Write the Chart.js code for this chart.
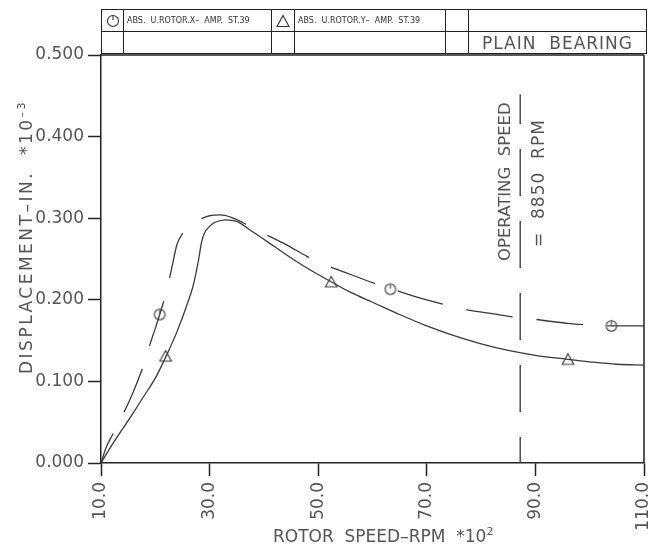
<!DOCTYPE html>
<html lang="en">
<head>
<meta charset="UTF-8">
<title>Plain bearing - displacement vs rotor speed</title>
<script src="https://cdn.jsdelivr.net/npm/chart.js"></script>
<style>
  body { margin: 0; background: #fff; }
  #wrap { position: relative; width: 661px; height: 549px; font-family: "DejaVu Sans", sans-serif; color: #555; }
  #chart { position: absolute; left: 0; top: 0; }
  table.head { position: absolute; left: 101px; top: 9px; width: 545px; border-collapse: collapse; table-layout: fixed; }
  table.head td { border: 1.5px solid #222; padding: 0; height: 21px; font-size: 8px; color: #333; white-space: nowrap; overflow: hidden; vertical-align: middle; }
  table.head td.sym { text-align: center; }
  table.head td.sym svg { display: block; margin: 0 auto; }
  table.head td.txt { padding-left: 3px; }
  table.head td.big { font-size: 17px; color: #555; text-align: center; letter-spacing: 1px; }
  .rot { position: absolute; white-space: nowrap; line-height: 17px; font-size: 17px; transform-origin: 0 0; transform: rotate(-90deg); }
  .lbl { position: absolute; white-space: nowrap; line-height: 17px; font-size: 17px; }
  sup { font-size: 11px; line-height: 0; vertical-align: 7px; }
</style>
</head>
<body>
<div id="wrap">
  <canvas id="chart" width="661" height="549"></canvas>

  <table class="head">
    <colgroup>
      <col style="width:22px"><col style="width:148px"><col style="width:23px">
      <col style="width:151px"><col style="width:23px"><col style="width:178px">
    </colgroup>
    <tr>
      <td class="sym"><svg width="14" height="14"><circle cx="7" cy="7" r="5.5" fill="none" stroke="#333" stroke-width="1.1"/><line x1="7" y1="1.5" x2="7" y2="6" stroke="#333" stroke-width="1.1"/></svg></td>
      <td class="txt">ABS.&nbsp; U.ROTOR.X–&nbsp; AMP.&nbsp; ST.39</td>
      <td class="sym"><svg width="14" height="14"><polygon points="7,1.5 13,12.5 1,12.5" fill="none" stroke="#333" stroke-width="1.1"/></svg></td>
      <td class="txt">ABS.&nbsp; U.ROTOR.Y–&nbsp; AMP.&nbsp; ST.39</td>
      <td></td>
      <td></td>
    </tr>
    <tr>
      <td></td><td></td><td></td><td></td><td></td>
      <td class="big">PLAIN&nbsp; BEARING</td>
    </tr>
  </table>

  <div class="rot" style="left:18px; top:374px; letter-spacing:2.5px;">DISPLACEMENT–IN.&nbsp; *10<sup>–3</sup></div>
  <div class="lbl" style="left:273px; top:528px;">ROTOR&nbsp; SPEED–RPM&nbsp; *10<sup>2</sup></div>
  <div class="rot" style="left:496px; top:261px; font-size:16.5px;">OPERATING&nbsp; SPEED</div>
  <div class="rot" style="left:530px; top:247px; letter-spacing:1px;">=&nbsp; 8850&nbsp; RPM</div>
</div>

<script>
// rotor speed in RPM*10^2, displacement in inch*10^-3
const rpmX = [10, 11, 12, 14, 16, 18, 19, 20, 21, 22, 23, 24, 25, 26, 27, 28, 30, 32, 34, 36, 40, 44, 48, 52, 56, 60, 66, 70, 74, 78, 82, 87, 90, 96, 100, 104, 110];
const ampX = [0.000, 0.020, 0.033, 0.059, 0.088, 0.123, 0.145, 0.165, 0.186, 0.209, 0.238, 0.268, 0.281, 0.289, 0.294, 0.298, 0.303, 0.304, 0.301, 0.295, 0.281, 0.268, 0.253, 0.241, 0.231, 0.221, 0.208, 0.200, 0.193, 0.187, 0.183, 0.178, 0.176, 0.171, 0.169, 0.168, 0.168];

const rpmY = [10, 12, 14, 16, 18, 20, 22, 24, 26, 27, 28, 28.5, 29, 30, 31, 33, 35, 38, 42, 46, 50, 56, 60, 65, 70, 75, 80, 85, 90, 96, 100, 105, 110];
const ampY = [0.000, 0.022, 0.042, 0.062, 0.083, 0.104, 0.131, 0.161, 0.197, 0.218, 0.250, 0.270, 0.281, 0.290, 0.295, 0.298, 0.296, 0.283, 0.265, 0.247, 0.231, 0.209, 0.197, 0.182, 0.168, 0.156, 0.146, 0.138, 0.132, 0.127, 0.124, 0.121, 0.120];

// marked test points
const markRpmX = [20.8, 63.3, 104];
const markAmpX = [0.182, 0.213, 0.168];
const markRpmY = [21.9, 52.4, 96];
const markAmpY = [0.131, 0.222, 0.127];

// operating speed line (drawn where it sits on the plot)
const opRpm = [87.2, 87.2];
const opAmp = [0, 0.452];

const xTicks = [10, 30, 50, 70, 90, 110];
const yTicks = [0, 0.1, 0.2, 0.3, 0.4, 0.5];

const ink = '#3a3a3a';
const axisInk = '#222';

function pts(xs, ys) {
    return xs.map((x, i) => ({ x: x, y: ys[i] }));
}

// circle with a short stroke from the top, like on the drawing
function circleMark() {
    const c = document.createElement('canvas');
    c.width = 14; c.height = 14;
    const g = c.getContext('2d');
    g.strokeStyle = ink; g.lineWidth = 1.1;
    g.beginPath(); g.arc(7, 7, 5.3, 0, Math.PI * 2); g.stroke();
    g.beginPath(); g.moveTo(7, 1.5); g.lineTo(7, 6.5); g.stroke();
    return c;
}

function triMark() {
    const c = document.createElement('canvas');
    c.width = 14; c.height = 14;
    const g = c.getContext('2d');
    g.strokeStyle = ink; g.lineWidth = 1.1;
    g.beginPath(); g.moveTo(7, 1.5); g.lineTo(12.8, 12); g.lineTo(1.2, 12); g.closePath(); g.stroke();
    return c;
}

const frame = {
    id: 'frame',
    afterDraw(chart) {
        const a = chart.chartArea, ctx = chart.ctx;
        ctx.save();
        ctx.strokeStyle = axisInk;
        ctx.lineWidth = 1.5;
        ctx.beginPath();
        ctx.moveTo(a.right, a.top);
        ctx.lineTo(a.right, a.bottom);
        ctx.moveTo(a.left, a.top);
        ctx.lineTo(a.right, a.top);
        ctx.stroke();
        ctx.restore();
    }
};

new Chart(document.getElementById('chart'), {
    type: 'scatter',
    data: {
        datasets: [
            {
                label: 'ABS. U.ROTOR.X- AMP. ST.39',
                data: pts(rpmX, ampX),
                showLine: true,
                borderColor: ink,
                borderWidth: 1.3,
                borderDash: [47, 24],
                borderDashOffset: 15,
                cubicInterpolationMode: 'monotone',
                pointRadius: 0
            },
            {
                label: 'ABS. U.ROTOR.Y- AMP. ST.39',
                data: pts(rpmY, ampY),
                showLine: true,
                borderColor: ink,
                borderWidth: 1.3,
                cubicInterpolationMode: 'monotone',
                pointRadius: 0
            },
            {
                label: 'X points',
                data: pts(markRpmX, markAmpX),
                pointStyle: circleMark(),
                pointRadius: 7
            },
            {
                label: 'Y points',
                data: pts(markRpmY, markAmpY),
                pointStyle: triMark(),
                pointRadius: 7
            },
            {
                label: 'Operating speed',
                data: pts(opRpm, opAmp),
                showLine: true,
                borderColor: '#333',
                borderWidth: 1.3,
                borderDash: [47, 25],
                borderDashOffset: 21,
                pointRadius: 0
            }
        ]
    },
    options: {
        responsive: false,
        animation: false,
        events: [],
        layout: { padding: { top: 55, right: 17, left: 0, bottom: 0 } },
        plugins: { legend: { display: false }, tooltip: { enabled: false } },
        scales: {
            x: {
                type: 'linear',
                min: 10,
                max: 110,
                afterFit: s => { s.height = 86; s.paddingRight = 17; s.paddingLeft = 0; },
                afterBuildTicks: s => { s.ticks = xTicks.map(v => ({ value: v })); },
                border: { display: true, color: axisInk, width: 1.5 },
                grid: { drawOnChartArea: false, drawTicks: true, tickLength: 13, tickColor: axisInk, tickWidth: 1.5 },
                ticks: {
                    minRotation: 90,
                    maxRotation: 90,
                    padding: 6,
                    color: '#555',
                    font: { family: 'DejaVu Sans', size: 17 },
                    callback: v => v.toFixed(1)
                }
            },
            y: {
                min: 0,
                max: 0.5,
                afterFit: s => { s.width = 101; },
                afterBuildTicks: s => { s.ticks = yTicks.map(v => ({ value: v })); },
                border: { display: true, color: axisInk, width: 1.5 },
                grid: { drawOnChartArea: false, drawTicks: true, tickLength: 13, tickColor: axisInk, tickWidth: 1.5 },
                ticks: {
                    padding: 4,
                    color: '#555',
                    font: { family: 'DejaVu Sans', size: 17 },
                    callback: v => v.toFixed(3)
                }
            }
        }
    },
    plugins: [frame]
});
</script>
</body>
</html>
